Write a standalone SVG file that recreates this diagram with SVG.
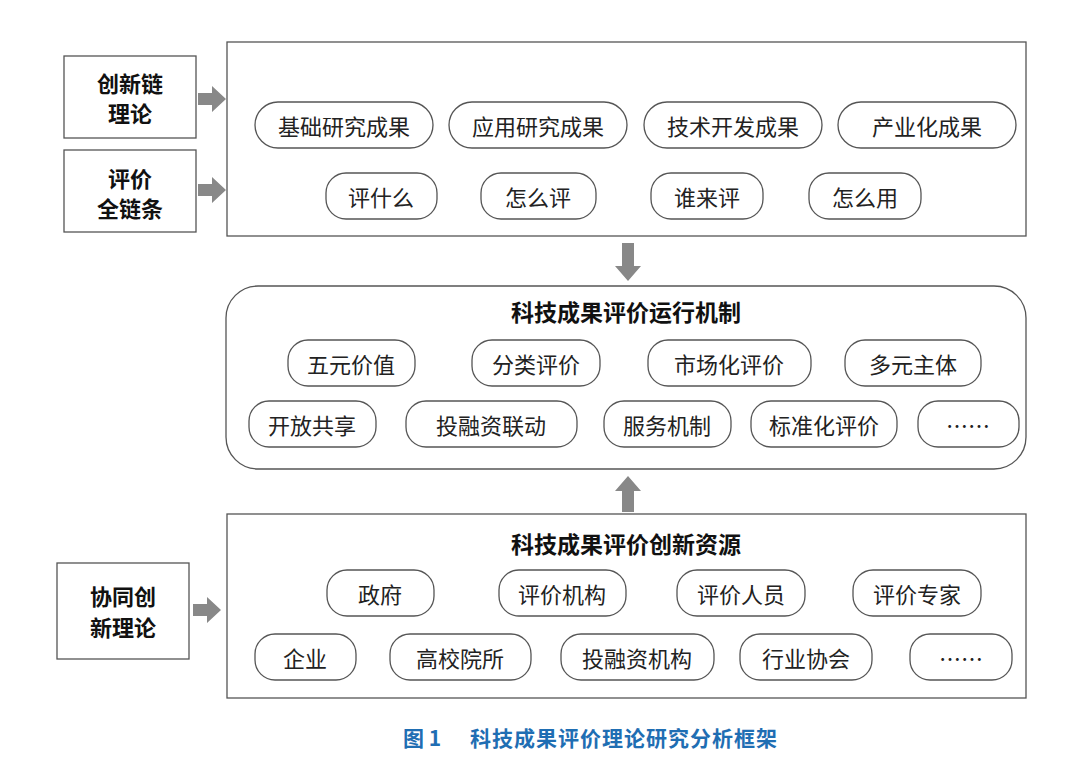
<svg xmlns="http://www.w3.org/2000/svg" width="1080" height="758" viewBox="0 0 1080 758">
<style>
.box{fill:#fff;stroke:#555;stroke-width:1.3}
.pill{fill:#fff;stroke:#555;stroke-width:1.3}
.t{font-family:"Noto Sans CJK SC",sans-serif;font-size:22px;fill:#222;text-anchor:middle;dominant-baseline:central}
.b{font-family:"Noto Sans CJK SC",sans-serif;font-size:23px;font-weight:700;fill:#111;text-anchor:middle;dominant-baseline:central}
.l{font-family:"Noto Sans CJK SC",sans-serif;font-size:22px;font-weight:700;fill:#111;text-anchor:middle}
.cap{font-family:"Noto Sans CJK SC",sans-serif;font-size:21px;font-weight:700;fill:#1f6eb3;text-anchor:middle;dominant-baseline:central}
.arr{fill:#888}
</style>
<rect width="1080" height="758" fill="#fff"/>
<g id="top"><rect class="box" x="227" y="42" width="799" height="194"/></g>
<g id="left1"><rect class="box" x="64" y="56" width="132" height="82"/><text class="l" x="130" y="92">创新链</text><text class="l" x="130" y="122">理论</text></g>
<g id="left2"><rect class="box" x="64" y="150" width="132" height="82"/><text class="l" x="130" y="187">评价</text><text class="l" x="130" y="217">全链条</text></g>
<g id="left3"><rect class="box" x="57" y="563" width="132" height="96"/><text class="l" x="123" y="605">协同创</text><text class="l" x="123" y="636">新理论</text></g>
<g id="p1"><rect class="pill" x="255" y="102" width="178" height="46" rx="23"/><text class="t" x="344" y="125">基础研究成果</text></g>
<g id="p2"><rect class="pill" x="449" y="102" width="178" height="46" rx="23"/><text class="t" x="538" y="125">应用研究成果</text></g>
<g id="p3"><rect class="pill" x="644" y="102" width="178" height="46" rx="23"/><text class="t" x="733" y="125">技术开发成果</text></g>
<g id="p4"><rect class="pill" x="838" y="102" width="178" height="46" rx="23"/><text class="t" x="927" y="125">产业化成果</text></g>
<g id="p5"><rect class="pill" x="326" y="173" width="111" height="46" rx="20"/><text class="t" x="381" y="196">评什么</text></g>
<g id="p6"><rect class="pill" x="481" y="173" width="115" height="46" rx="20"/><text class="t" x="538" y="196">怎么评</text></g>
<g id="p7"><rect class="pill" x="651" y="173" width="112" height="46" rx="20"/><text class="t" x="707" y="196">谁来评</text></g>
<g id="p8"><rect class="pill" x="809" y="173" width="112" height="46" rx="20"/><text class="t" x="865" y="196">怎么用</text></g>
<g id="mid"><rect class="box" x="226" y="286" width="800" height="183" rx="32"/><text class="b" x="626" y="311">科技成果评价运行机制</text></g>
<g id="m1"><rect class="pill" x="288" y="340" width="127" height="46" rx="20"/><text class="t" x="351" y="363">五元价值</text></g>
<g id="m2"><rect class="pill" x="472" y="340" width="128" height="46" rx="20"/><text class="t" x="536" y="363">分类评价</text></g>
<g id="m3"><rect class="pill" x="648" y="340" width="163" height="46" rx="20"/><text class="t" x="729" y="363">市场化评价</text></g>
<g id="m4"><rect class="pill" x="845" y="340" width="136" height="46" rx="20"/><text class="t" x="913" y="363">多元主体</text></g>
<g id="m5"><rect class="pill" x="249" y="401" width="127" height="46" rx="20"/><text class="t" x="312" y="424">开放共享</text></g>
<g id="m6"><rect class="pill" x="406" y="401" width="171" height="46" rx="20"/><text class="t" x="491" y="424">投融资联动</text></g>
<g id="m7"><rect class="pill" x="604" y="401" width="127" height="46" rx="20"/><text class="t" x="667" y="424">服务机制</text></g>
<g id="m8"><rect class="pill" x="751" y="401" width="146" height="46" rx="20"/><text class="t" x="824" y="424">标准化评价</text></g>
<g id="m9"><rect class="pill" x="918" y="401" width="101" height="46" rx="20"/><text class="t" x="968" y="424">……</text></g>
<g id="bot"><rect class="box" x="227" y="514" width="799" height="184"/><text class="b" x="626" y="543">科技成果评价创新资源</text></g>
<g id="b1"><rect class="pill" x="327" y="570" width="107" height="46" rx="20"/><text class="t" x="380" y="593">政府</text></g>
<g id="b2"><rect class="pill" x="499" y="570" width="127" height="46" rx="20"/><text class="t" x="562" y="593">评价机构</text></g>
<g id="b3"><rect class="pill" x="677" y="570" width="128" height="46" rx="20"/><text class="t" x="741" y="593">评价人员</text></g>
<g id="b4"><rect class="pill" x="853" y="570" width="128" height="46" rx="20"/><text class="t" x="917" y="593">评价专家</text></g>
<g id="b5"><rect class="pill" x="255" y="634" width="101" height="46" rx="20"/><text class="t" x="305" y="657">企业</text></g>
<g id="b6"><rect class="pill" x="390" y="634" width="141" height="46" rx="20"/><text class="t" x="460" y="657">高校院所</text></g>
<g id="b7"><rect class="pill" x="561" y="634" width="153" height="46" rx="20"/><text class="t" x="637" y="657">投融资机构</text></g>
<g id="b8"><rect class="pill" x="740" y="634" width="132" height="46" rx="20"/><text class="t" x="806" y="657">行业协会</text></g>
<g id="b9"><rect class="pill" x="910" y="634" width="102" height="46" rx="20"/><text class="t" x="961" y="657">……</text></g>
<g id="connectors">
<polygon class="arr" points="198,93 212,93 212,86 226,99 212,112 212,105 198,105"/>
<polygon class="arr" points="198,184 212,184 212,177 226,190 212,203 212,196 198,196"/>
<polygon class="arr" points="193,604 207,604 207,597 221,610 207,623 207,616 193,616"/>
<polygon class="arr" points="622,243 634,243 634,266 641,266 628,281 615,266 622,266"/>
<polygon class="arr" points="622,512 634,512 634,491 641,491 628,476 615,491 622,491"/>
</g>
<text class="cap" x="422" y="737">图 1</text>
<text class="cap" x="624" y="737" letter-spacing="1">科技成果评价理论研究分析框架</text>
</svg>
